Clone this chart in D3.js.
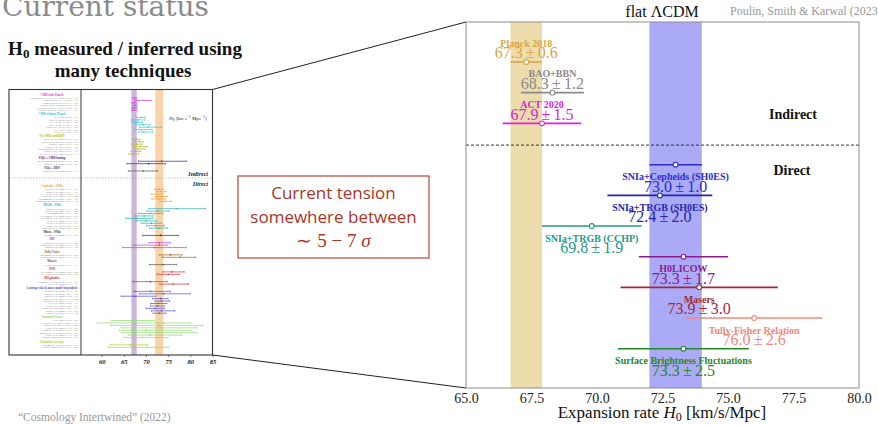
<!DOCTYPE html>
<html><head><meta charset="utf-8">
<script src="https://cdn.jsdelivr.net/npm/d3@7"></script>
<style>body{margin:0;background:#fff}svg{display:block}</style>
</head><body>
<svg id="c" width="878" height="425"></svg>
<script>
// ---------------- DATA ----------------
// Main (zoomed) panel
const indirectNames  = ["Planck 2018", "BAO+BBN", "ACT 2020"];
const indirectValues = [67.3, 68.3, 67.9];
const indirectErrors = [0.6, 1.2, 1.5];
const indirectColors = ["#d9a640", "#8a8a8a", "#e020dc"];

const directNames  = ["SNIa+Cepheids (SH0ES)", "SNIa+TRGB (SH0ES)", "SNIa+TRGB (CCHP)", "H0LICOW", "Masers", "Tully-Fisher Relation", "Surface Brightness Fluctuations"];
const directValues = [73.0, 72.4, 69.8, 73.3, 73.9, 76.0, 73.3];
const directErrors = [1.0, 2.0, 1.9, 1.7, 3.0, 2.6, 2.5];
const directColors = ["#2a2ad0", "#2424b0", "#23998a", "#8a188f", "#a82638", "#f0887a", "#23882a"];

const mainTicks = [65.0, 67.5, 70.0, 72.5, 75.0, 77.5, 80.0];
const planckBand = [67.3, 0.6];
const shoesBand  = [73.0, 1.0];

// Thumbnail (left) panel : groups, colours, rows [value, errLow, errHigh]
const thumbGroupNames = ["CMB with Planck", "CMB without Planck", "No CMB, with BBN", "Pl(k) + CMB lensing", "Pl(k) + BBN",
  "Cepheids \u2013 SNIa", "TRGB \u2013 SNIa", "Miras \u2013 SNIa", "SBF", "Tully Fisher", "Masers", "SNII", "HII galaxies",
  "Lensing related, mass model-dependent", "Standard Sirens", "Optimistic average"];
const thumbGroupColors = ["#d83ad8", "#38c4d4", "#b4b420", "#2c2c8c", "#555555",
  "#f0a030", "#2cb0b0", "#333333", "#c040d0", "#a06020", "#555555", "#e03030", "#c03030",
  "#5050d0", "#8cdc6c", "#b8cc30"];
const thumbRows = [
  [[67.4,0.5,0.5],[68.0,0.6,3.2],[67.3,0.5,0.5],[67.5,0.5,0.5],[67.4,0.6,0.6],[67.3,0.6,0.6]],
  [[68.8,1.0,1.0],[68.2,1.5,1.5],[68.0,1.2,1.2],[69.3,1.6,1.6],[70.5,2.0,3.0],[68.9,1.5,2.5],[69.5,1.2,2.0]],
  [[67.8,0.9,0.9],[68.5,1.0,1.0],[67.9,1.2,1.2],[68.8,1.5,1.5],[68.3,1.0,1.5],[67.6,1.0,1.2],[67.2,1.1,1.1]],
  [[73.5,5.2,5.6],[70.6,4.9,3.8]],
  [[69.4,3.4,3.2]],
  [[73.0,1.0,1.0],[73.3,1.0,1.2],[72.5,1.3,1.3],[73.5,1.4,1.4],[72.8,1.5,1.5],[74.3,1.2,1.5]],
  [[77.0,6.4,6.4],[72.7,2.5,2.5],[71.0,2.8,2.8],[69.6,2.0,2.0],[68.0,2.6,3.6],[70.0,2.3,2.3],[71.2,2.3,2.3],[72.1,2.0,2.0],[72.8,2.0,2.0]],
  [[73.3,4.1,4.0]],
  [[73.0,2.3,2.5],[73.0,5.8,1.8],[71.9,7.2,7.2]],
  [[75.5,2.4,2.6],[77.7,4.0,3.5]],
  [[73.9,3.2,3.0]],
  [[75.8,2.0,2.8],[75.0,2.5,2.5]],
  [[71.0,4.0,3.8],[76.1,3.0,3.5]],
  [[71.0,3.8,4.5],[74.0,5.5,6.0],[67.4,3.0,4.8],[73.3,1.8,1.7],[73.5,1.5,1.8],[72.8,1.8,1.9],[72.5,1.5,1.6],[72.0,2.0,2.2],[73.5,2.3,3.0],[73.0,1.4,1.5]],
  [[67.2,5.0,4.7],[74.0,15.0,6.0],[73.0,11.0,10.0],[73.5,9.0,8.0],[70.0,6.0,10.0],[72.5,8.0,9.0],[71.0,5.0,7.0],[69.0,4.0,6.0]],
  [[66.4,4.5,4.0],[67.1,5.6,8.0]]
];
const thumbRefs = [
  ["Planck 2018 TT,TE,EE+lowE","Planck 2018+ACT","Planck 2018+BAO","Planck 2018+lensing","Planck 2018 TT+lowE","Planck 2018 EE+lowE"],
  ["ACT DR4","SPT-3G 2018","ACT+WMAP","SPT+WMAP","WMAP9+BAO","ACT+SPT","WMAP9"],
  ["DES+BAO+BBN","BOSS DR12+BBN","eBOSS+BBN","Cuceu et al. 2019","Schöneberg et al. 2019","BOSS P(k)+BBN","DES Y1+BAO+BBN"],
  ["Baxter & Sherwin 2021","Philcox et al. 2021"],
  ["Philcox et al. 2022"],
  ["Riess et al. 2022","Riess et al. 2021","Riess et al. 2020","Breuval et al. 2020","Javanmardi et al. 2021","Camarena & Marra 2021"],
  ["Anand et al. 2021","Soltis et al. 2021","Freedman 2021","Freedman et al. 2020","Freedman et al. 2019","Kim et al. 2020","Reid et al. 2019","Yuan et al. 2019","Dhawan et al. 2022"],
  ["Huang et al. 2020"],
  ["Khetan et al. 2021","Blakeslee et al. 2021","Jensen et al. 2021"],
  ["Schombert et al. 2020","Kourkchi et al. 2020"],
  ["Pesce et al. 2020"],
  ["de Jaeger et al. 2022","de Jaeger et al. 2020"],
  ["Fernández Arenas 2018","Cao et al. 2022"],
  ["Wong et al. 2020","Shajib et al. 2020","Birrer et al. 2020","Denzel et al. 2021","Millon et al. 2020","Qi et al. 2021","Liao et al. 2020","Birrer & Treu 2021","Rusu et al. 2020","Chen et al. 2019"],
  ["LVK 2021","Abbott et al. 2019","Abbott et al. 2017","Gray et al. 2022","Palmese et al. 2021","Mukherjee et al. 2020","Finke et al. 2021","Soares-Santos 2019"],
  ["Optimistic average","Ultra-conservative"]
];
const thumbTicks = [60, 65, 70, 75, 80, 85];
const thumbBandPurple = [67.3, 0.6];
const thumbBandOrange = [73.0, 0.9];

// ---------------- DRAW ----------------
const svg = d3.select("#c");
const SERIF = "'Liberation Serif','Times New Roman',serif";

// Slide texts
svg.append("text").attr("x", 2).attr("y", 16).attr("fill", "#8a8a8a")
  .style("font-family", "'DejaVu Serif',serif").style("font-size", "28px").text("Current status");
const hd = svg.append("g").attr("fill", "#111").style("font-family", SERIF).style("font-weight", "bold").style("font-size", "19px").attr("text-anchor", "middle");
const h1 = hd.append("text").attr("x", 125).attr("y", 55);
h1.append("tspan").text("H");
h1.append("tspan").attr("dy", 3).style("font-size", "13px").text("0");
h1.append("tspan").attr("dy", -3).text(" measured / inferred using");
hd.append("text").attr("x", 123).attr("y", 77).text("many techniques");
svg.append("text").attr("x", 18).attr("y", 421).attr("fill", "#999").style("font-family", SERIF).style("font-size", "11.5px")
  .text("\u201CCosmology Intertwined\u201D (2022)");

// ---------- Thumbnail ----------
const TL = 9, TD = 81, TR = 212.5, TT = 89.5, TB = 355;
const xT = d3.scaleLinear().domain([60, 85]).range([101.7, TR]);
// slot layout
let slot = 0; const thumbLayout = [];
thumbRows.forEach((rows, gi) => {
  if (gi > 0) slot += 3;
  if (gi === 5) slot += 4.5;
  const start = slot;
  thumbLayout.push(rows.map((r, i) => start + i));
  slot = start + rows.length - 1;
});
const yT = d3.scaleLinear().domain([0, slot]).range([98, 347.3]);
const thumb = svg.append("g");
[[thumbBandPurple, "#cbb7dd"], [thumbBandOrange, "#f9d4aa"]].forEach(([b, c]) => {
  thumb.append("rect").attr("x", xT(b[0] - b[1])).attr("y", TT).attr("width", xT(b[0] + b[1]) - xT(b[0] - b[1]))
    .attr("height", TB - TT).attr("fill", c);
});
// dashed separator
const sepSlot = thumbLayout[4][0] + 2.9;
thumb.append("line").attr("x1", TL).attr("x2", TR).attr("y1", yT(sepSlot)).attr("y2", yT(sepSlot))
  .attr("stroke", "#888").attr("stroke-width", 0.5).attr("stroke-dasharray", "1.5,1.5");
thumbRows.forEach((rows, gi) => {
  const col = thumbGroupColors[gi];
  rows.forEach((r, i) => {
    const y = yT(thumbLayout[gi][i]);
    const x0 = Math.max(xT(r[0] - r[1]), TD), x1 = Math.min(xT(r[0] + r[2]), TR);
    thumb.append("line").attr("x1", x0).attr("x2", x1).attr("y1", y).attr("y2", y).attr("stroke", col).attr("stroke-width", 0.7);
    [x0, x1].forEach(x => thumb.append("line").attr("x1", x).attr("x2", x).attr("y1", y - 0.9).attr("y2", y + 0.9).attr("stroke", col).attr("stroke-width", 0.6));
    thumb.append("circle").attr("cx", xT(r[0])).attr("cy", y).attr("r", 0.8).attr("fill", col);
    thumb.append("text").attr("x", 78).attr("y", y + 0.9).attr("text-anchor", "end").attr("fill", "#777")
      .style("font-family", SERIF).style("font-size", "2.9px")
      .text(thumbRefs[gi][i] + ": " + r[0].toFixed(1) + " \u00B1 " + ((r[1] + r[2]) / 2).toFixed(1));
  });
  thumb.append("text").attr("x", 52).attr("y", yT(thumbLayout[gi][0] - 1.3) + 0.9).attr("text-anchor", "middle")
    .attr("fill", col).style("font-family", SERIF).style("font-weight", "bold").style("font-size", "3px").text(thumbGroupNames[gi]);
});
// frame
thumb.append("rect").attr("x", TL).attr("y", TT).attr("width", TR - TL).attr("height", TB - TT).attr("fill", "none").attr("stroke", "#333").attr("stroke-width", 1.1);
thumb.append("line").attr("x1", TD).attr("x2", TD).attr("y1", TT).attr("y2", TB).attr("stroke", "#333").attr("stroke-width", 1);
const tAx = thumb.append("g").attr("transform", `translate(0,${TB})`)
  .call(d3.axisBottom(xT).tickValues(thumbTicks).tickSize(2).tickPadding(2));
tAx.select(".domain").remove();
tAx.selectAll("line").attr("stroke", "#333").attr("stroke-width", 0.6);
tAx.selectAll("text").style("font-family", SERIF).style("font-size", "6.5px").style("font-style", "italic").style("font-weight", "bold").attr("fill", "#222");
const tl = thumb.append("text").attr("x", 169).attr("y", 120).attr("fill", "#222").style("font-family", SERIF).style("font-style", "italic").style("font-size", "5px");
tl.append("tspan").text("H");
tl.append("tspan").attr("dy", 1).style("font-size", "3.5px").text("0");
tl.append("tspan").attr("dy", -1).text(" [km s");
tl.append("tspan").attr("dy", -2).style("font-size", "3.5px").text("\u22121");
tl.append("tspan").attr("dy", 2).text(" Mpc");
tl.append("tspan").attr("dy", -2).style("font-size", "3.5px").text("\u22121");
tl.append("tspan").attr("dy", 2).text("]");
thumb.append("text").attr("x", 208).attr("y", 175.5).attr("text-anchor", "end").attr("fill", "#222").style("font-family", SERIF)
  .style("font-style", "italic").style("font-weight", "bold").style("font-size", "6px").text("Indirect");
thumb.append("text").attr("x", 208).attr("y", 186).attr("text-anchor", "end").attr("fill", "#222").style("font-family", SERIF)
  .style("font-style", "italic").style("font-weight", "bold").style("font-size", "6px").text("Direct");

// ---------- Main panel ----------
const ML = 466, MR = 859, MT = 22, MB = 388;
const x = d3.scaleLinear().domain([65, 80]).range([ML, MR]);
const directOffset = 3.35, sepPos = 2.71;
const y = d3.scaleLinear().domain([0, directOffset + directNames.length - 1]).range([62, 348.7]);

// connector lines
svg.append("line").attr("x1", TR).attr("y1", TT).attr("x2", ML).attr("y2", MT).attr("stroke", "#222").attr("stroke-width", 1);
svg.append("line").attr("x1", TR).attr("y1", TB).attr("x2", ML).attr("y2", MB).attr("stroke", "#222").attr("stroke-width", 1);

const main = svg.append("g");
[[planckBand, "#eddcac"], [shoesBand, "#aaaaf6"]].forEach(([b, c]) => {
  main.append("rect").attr("x", x(b[0] - b[1])).attr("y", MT).attr("width", x(b[0] + b[1]) - x(b[0] - b[1]))
    .attr("height", MB - MT).attr("fill", c);
});
main.append("line").attr("x1", ML).attr("x2", MR).attr("y1", y(sepPos)).attr("y2", y(sepPos))
  .attr("stroke", "#333").attr("stroke-width", 1).attr("stroke-dasharray", "3,2");
main.append("rect").attr("x", ML).attr("y", MT).attr("width", MR - ML).attr("height", MB - MT)
  .attr("fill", "none").attr("stroke", "#8c8c8c").attr("stroke-width", 1);

function drawPoint(name, v, e, col, pos, above) {
  const yy = y(pos);
  main.append("line").attr("x1", x(v - e)).attr("x2", x(v + e)).attr("y1", yy).attr("y2", yy).attr("stroke", col).attr("stroke-width", 1.6);
  main.append("circle").attr("cx", x(v)).attr("cy", yy).attr("r", 2.4).attr("fill", "#fff").attr("stroke", col).attr("stroke-width", 1.1);
  const lb = above ? yy - 15.5 : yy + 15.5, vb = above ? yy - 3.8 : yy + 27;
  main.append("text").attr("x", x(v)).attr("y", lb).attr("text-anchor", "middle").attr("fill", col)
    .style("font-family", SERIF).style("font-weight", "bold").style("font-size", "10px").text(name);
  main.append("text").attr("x", x(v)).attr("y", vb).attr("text-anchor", "middle").attr("fill", col)
    .style("font-family", SERIF).style("font-size", "16px").text(v.toFixed(1) + "\u2009\u00B1\u2009" + e.toFixed(1));
}
indirectNames.forEach((n, i) => drawPoint(n, indirectValues[i], indirectErrors[i], indirectColors[i], i, true));
directNames.forEach((n, i) => drawPoint(n, directValues[i], directErrors[i], directColors[i], directOffset + i, false));

main.append("text").attr("x", 793).attr("y", 119).attr("text-anchor", "middle").attr("fill", "#111")
  .style("font-family", SERIF).style("font-weight", "bold").style("font-size", "14px").text("Indirect");
main.append("text").attr("x", 792).attr("y", 175).attr("text-anchor", "middle").attr("fill", "#111")
  .style("font-family", SERIF).style("font-weight", "bold").style("font-size", "14px").text("Direct");

const ax = main.append("g").attr("transform", `translate(0,${MB})`)
  .call(d3.axisBottom(x).tickValues(mainTicks).tickFormat(d3.format(".1f")).tickSize(0).tickPadding(5));
ax.select(".domain").remove();
ax.selectAll("text").style("font-family", SERIF).style("font-size", "14px").attr("fill", "#222");
const xl = main.append("text").attr("x", 662).attr("y", 418).attr("text-anchor", "middle").attr("fill", "#111")
  .style("font-family", SERIF).style("font-size", "17px");
xl.append("tspan").text("Expansion rate ");
xl.append("tspan").style("font-style", "italic").text("H");
xl.append("tspan").attr("dy", 3).style("font-size", "12px").text("0");
xl.append("tspan").attr("dy", -3).text(" [km/s/Mpc]");

svg.append("text").attr("x", 662).attr("y", 17).attr("text-anchor", "middle").attr("fill", "#111")
  .style("font-family", SERIF).style("font-size", "16px").text("flat \u039BCDM");
svg.append("text").attr("x", 730).attr("y", 15).attr("fill", "#999")
  .style("font-family", SERIF).style("font-size", "12px").text("Poulin, Smith & Karwal (2023)");

// ---------- Tension box ----------
const box = svg.append("g");
box.append("rect").attr("x", 238).attr("y", 176).attr("width", 191).attr("height", 82).attr("fill", "#fff")
  .attr("stroke", "#b5473a").attr("stroke-width", 1.2);
const bt = box.append("g").attr("fill", "#a8342a").attr("text-anchor", "middle").style("font-family", "'Open Sans','Noto Sans',sans-serif").style("font-size", "17px");
bt.append("text").attr("x", 333.5).attr("y", 199).text("Current tension");
bt.append("text").attr("x", 333.5).attr("y", 223).text("somewhere between");
const t3 = bt.append("text").attr("x", 333.5).attr("y", 247).style("font-family", SERIF).style("font-size", "19px");
t3.append("tspan").text("\u223C 5 \u2212 7 ");
t3.append("tspan").style("font-style", "italic").text("\u03C3");
</script>
</body></html>
